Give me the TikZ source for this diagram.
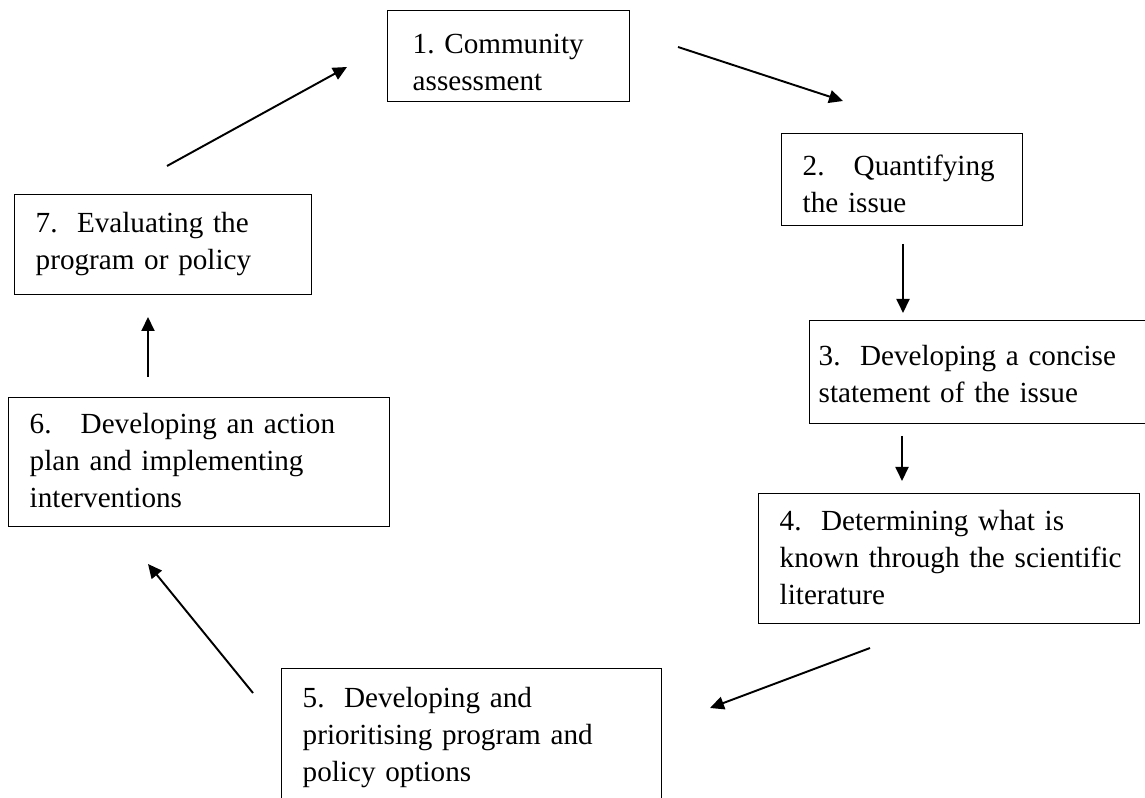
\documentclass[tikz,border=0pt]{standalone}
\usepackage{fontspec}
\setmainfont{Liberation Serif}
\usepackage{tikz}
\usetikzlibrary{arrows.meta}
\frenchspacing
\hyphenpenalty=10000

\tikzset{
    stage/.style={draw, line width=0.8pt, anchor=north west, align=left,
        inner ysep=0pt, font=\fontsize{16.6}{21}\selectfont},
    flow/.style={line width=1.1pt, -{Triangle[length=0.28cm,width=0.26cm]}}
}

\begin{document}
\begin{tikzpicture}
    \useasboundingbox (0,0) rectangle (22.9,15.94);

    % Stages of the cycle, clockwise from the top
    \node[stage, inner xsep=0.5cm, text width=3.84cm, text height=0.86cm, text depth=0.96cm]
        (s1) at (7.74,15.74) {1. Community\\assessment};
    \node[stage, inner xsep=0.42cm, text width=3.98cm, text height=0.84cm, text depth=1.00cm]
        (s2) at (15.62,13.28) {2.\ \ \ Quantifying\\the issue};
    \node[stage, inner xsep=0.18cm, text width=6.66cm, text height=0.90cm, text depth=1.16cm]
        (s3) at (16.18,9.54) {3.\ \ Developing a concise\\statement of the issue};
    \node[stage, inner xsep=0.42cm, text width=6.78cm, text height=0.74cm, text depth=1.86cm]
        (s4) at (15.16,6.08) {4.\ \ Determining what is\\\mbox{known through the scientific}\\literature};
    \node[stage, inner xsep=0.42cm, text width=6.76cm, text height=0.78cm, text depth=2.40cm]
        (s5) at (5.62,2.58) {5.\ \ Developing and\\prioritising program and\\policy options};
    \node[stage, inner xsep=0.42cm, text width=6.78cm, text height=0.72cm, text depth=1.86cm]
        (s6) at (0.16,8.00) {6.\ \ \ Developing an action\\plan and implementing\\interventions};
    \node[stage, inner xsep=0.42cm, text width=5.10cm, text height=0.76cm, text depth=1.24cm]
        (s7) at (0.28,12.06) {7.\ \ Evaluating the\\program or policy};

    % Arrow ends
    \coordinate (s1out) at (13.56,15.00);  \coordinate (s2in) at (16.86,13.92);
    \coordinate (s2out) at (18.06,11.06);  \coordinate (s3in) at (18.06,9.68);
    \coordinate (s3out) at (18.04,7.22);   \coordinate (s4in) at (18.04,6.32);
    \coordinate (s4out) at (17.40,2.98);   \coordinate (s5in) at (14.20,1.78);
    \coordinate (s5out) at (5.06,2.08);    \coordinate (s6in) at (2.96,4.66);
    \coordinate (s6out) at (2.96,8.40);    \coordinate (s7in) at (2.96,9.60);
    \coordinate (s7out) at (3.34,12.62);   \coordinate (s1in) at (6.94,14.60);

    \draw[flow] (s1out) -- (s2in);
    \draw[flow] (s2out) -- (s3in);
    \draw[flow] (s3out) -- (s4in);
    \draw[flow] (s4out) -- (s5in);
    \draw[flow] (s5out) -- (s6in);
    \draw[flow] (s6out) -- (s7in);
    \draw[flow] (s7out) -- (s1in);
\end{tikzpicture}
\end{document}
